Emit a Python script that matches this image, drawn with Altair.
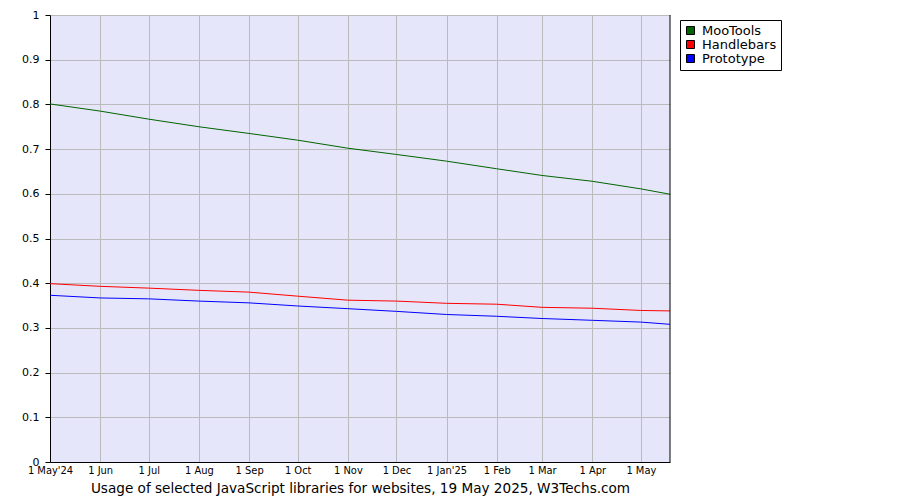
import altair as alt
import pandas as pd

dates = ["2024-05-01", "2024-06-01", "2024-07-01", "2024-08-01", "2024-09-01",
         "2024-10-01", "2024-11-01", "2024-12-01", "2025-01-01", "2025-02-01",
         "2025-03-01", "2025-04-01", "2025-05-01", "2025-05-19"]
mootools = [0.801, 0.785, 0.767, 0.750, 0.735, 0.720, 0.702, 0.688, 0.673,
            0.656, 0.641, 0.628, 0.611, 0.599]
handlebars = [0.399, 0.393, 0.389, 0.384, 0.380, 0.371, 0.362, 0.360, 0.355,
              0.353, 0.346, 0.344, 0.339, 0.338]
prototype = [0.373, 0.367, 0.365, 0.360, 0.356, 0.349, 0.343, 0.337, 0.330,
             0.326, 0.321, 0.317, 0.313, 0.308]

series = ["MooTools", "Handlebars", "Prototype"]
colors = ["#006400", "#FF0000", "#0000FF"]

tick_dates = dates[:-1]

rows = []
for name, vals in zip(series, [mootools, handlebars, prototype]):
    for d, v in zip(dates, vals):
        rows.append({"date": d, "value": v, "series": name, "lib": name})
df = pd.DataFrame(rows)

tick_vals = [alt.DateTime(year=int(d[:4]), month=int(d[5:7]), date=1, utc=True) for d in tick_dates]

label_expr = ("utcFormat(datum.value, '%-d %b') + "
              "((utcyear(datum.value)==2024 && utcmonth(datum.value)==4) ? \"'24\" : "
              "(utcmonth(datum.value)==0 ? \"'25\" : ''))")

FONT = "DejaVu Sans"
NARROW = "Liberation Sans Narrow, DejaVu Sans Condensed, Arial Narrow"

x_enc = alt.X("date:T",
              scale=alt.Scale(type="utc", domain=[alt.DateTime(year=2024, month=5, date=1, utc=True),
                                                  alt.DateTime(year=2025, month=5, date=19, utc=True)],
                              nice=False),
              axis=alt.Axis(values=tick_vals, labelExpr=label_expr,
                            title="Usage of selected JavaScript libraries for websites, 19 May 2025, W3Techs.com",
                            titleFont=FONT, titleFontSize=13.6, titleFontWeight="normal",
                            titleColor="#000000", titlePadding=6,
                            labelFont=NARROW, labelFontSize=11, labelColor="#000000",
                            labelPadding=2, ticks=False, grid=True, gridColor="#BBBBBB",
                            domainColor="#000000", labelFlush=False, labelOverlap=False))
y_enc = alt.Y("value:Q",
              scale=alt.Scale(domain=[0, 1], nice=False),
              axis=alt.Axis(values=[0, 0.1, 0.2, 0.3, 0.4, 0.5, 0.6, 0.7, 0.8, 0.9, 1],
                            labelExpr="datum.value == 0 ? '0' : datum.value == 1 ? '1' : format(datum.value, '.1f')",
                            title=None, labelFont=FONT, labelFontSize=11, labelColor="#000000",
                            tickSize=5, tickColor="#000000", labelPadding=6,
                            grid=True, gridColor="#BBBBBB", domainColor="#000000"))

lines = alt.Chart(df).mark_line(strokeWidth=1, clip=True).encode(
    x=x_enc, y=y_enc,
    stroke=alt.Stroke("series:N", scale=alt.Scale(domain=series, range=colors), legend=None),
    detail="series:N",
)

points = alt.Chart(df).mark_point(shape="square", filled=True, size=0, opacity=1).encode(
    x=x_enc, y=y_enc,
    fill=alt.Fill("lib:N",
                  scale=alt.Scale(domain=series, range=colors),
                  legend=alt.Legend(title=None, orient="none", legendX=630, legendY=5,
                                    symbolType="square", symbolSize=64,
                                    symbolStrokeColor="#000000", symbolStrokeWidth=1,
                                    symbolOpacity=1,
                                    labelFont=FONT, labelFontSize=13, labelColor="#000000",
                                    rowPadding=-5, strokeColor="#000000", fillColor="#FFFFFF",
                                    padding=4, labelOffset=5, cornerRadius=0)),
)

border = alt.Chart(pd.DataFrame({"a": [0]})).mark_rule(color="#000000", strokeWidth=1).encode(
    x=alt.value(620), y=alt.value(0), y2=alt.value(447)
)

chart = alt.layer(lines, points, border).resolve_scale(fill="independent", stroke="independent").properties(
    width=620, height=447,
    autosize=alt.AutoSizeParams(type="none"),
    padding={"left": 42, "top": 7, "right": 200, "bottom": 38},
    background="#FFFFFF",
).configure_view(fill="#E6E6FA", stroke=None)

chart.save("out.html", embed_options={"renderer": "svg", "actions": False})
